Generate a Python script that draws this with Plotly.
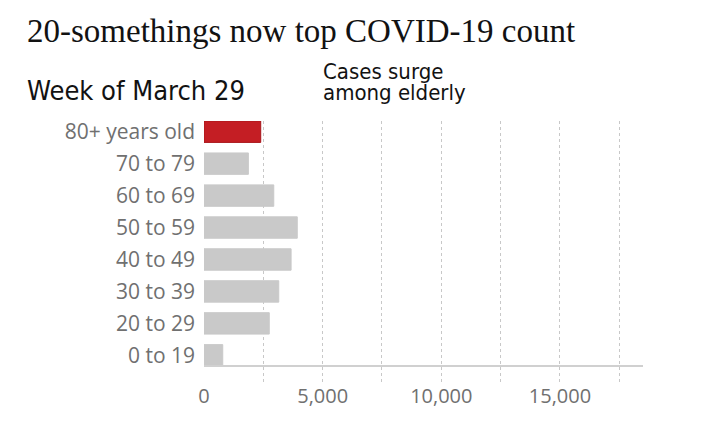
import plotly.graph_objects as go

# Weekly COVID-19 cases by age group, week of March 29
age_groups = ['0 to 19', '20 to 29', '30 to 39', '40 to 49',
              '50 to 59', '60 to 69', '70 to 79', '80+ years old']
cases = [790, 2750, 3150, 3670, 3930, 2940, 1870, 2390]
highlight = '80+ years old'

x_ticks = [0, 5000, 10000, 15000]
x_tick_labels = ['0', '5,000', '10,000', '15,000']

colors = ['#c41e24' if g == highlight else '#c9c9c9' for g in age_groups]
outlines = ['#a8161b' if g == highlight else '#c9c9c9' for g in age_groups]

fig = go.Figure(go.Bar(
    x=cases, y=age_groups, orientation='h',
    marker=dict(color=colors, line=dict(color=outlines, width=1)),
    width=0.67,
    hoverinfo='skip',
))

bar_bottom = -0.335

# baseline under the bars
fig.add_shape(type='line', xref='paper', yref='y', x0=0, x1=1,
              y0=bar_bottom, y1=bar_bottom,
              line=dict(color='#d0d0d0', width=2), layer='above')

# page body adds an 8px offset, so margins are shifted by that much
fig.update_layout(
    width=705, height=446,
    margin=dict(l=196, r=70, t=113, b=72),
    paper_bgcolor='white', plot_bgcolor='white',
    showlegend=False,
    font=dict(family='Open Sans, Noto Sans, sans-serif', color='#707070', size=19),
    xaxis=dict(
        range=[0, 18500], automargin=False,
        tickvals=x_ticks, ticktext=x_tick_labels,
        showgrid=True, gridcolor='#c8c8c8', griddash='dot', gridwidth=1,
        minor=dict(dtick=2500, tick0=0, showgrid=True, gridcolor='#c8c8c8',
                   griddash='dot', gridwidth=1),
        zeroline=False, showline=False, ticks='', ticklabelstandoff=0,
        tickfont=dict(size=20, color='#707070'),
        fixedrange=True,
    ),
    yaxis=dict(
        categoryorder='array', categoryarray=age_groups, automargin=False,
        range=[bar_bottom - 0.5, 7.335],
        showgrid=False, zeroline=False, showline=False, ticks='',
        ticklabelstandoff=8,
        tickfont=dict(size=21, color='#707070'),
        fixedrange=True,
    ),
)

condensed = 'DejaVu Sans Condensed, Liberation Sans Narrow, Roboto, sans-serif'

fig.add_annotation(text='20-somethings now top COVID-19 count',
                   xref='paper', yref='paper', x=-0.408, y=1.27,
                   xanchor='left', yanchor='bottom', showarrow=False,
                   font=dict(family='Liberation Serif, serif', size=33, color='#121212'))
fig.add_annotation(text='Week of March 29',
                   xref='paper', yref='paper', x=-0.408, y=1.05,
                   xanchor='left', yanchor='bottom', showarrow=False,
                   font=dict(family=condensed, size=27, color='#121212'))
# two separate lines so the line spacing can be tighter than <br> allows
fig.add_annotation(text='Cases surge',
                   xref='paper', yref='paper', x=0.266, y=1.133,
                   xanchor='left', yanchor='bottom', showarrow=False,
                   font=dict(family=condensed, size=22, color='#121212'))
fig.add_annotation(text='among elderly',
                   xref='paper', yref='paper', x=0.266, y=1.052,
                   xanchor='left', yanchor='bottom', showarrow=False,
                   font=dict(family=condensed, size=22, color='#121212'))

fig.write_html('out.html')
